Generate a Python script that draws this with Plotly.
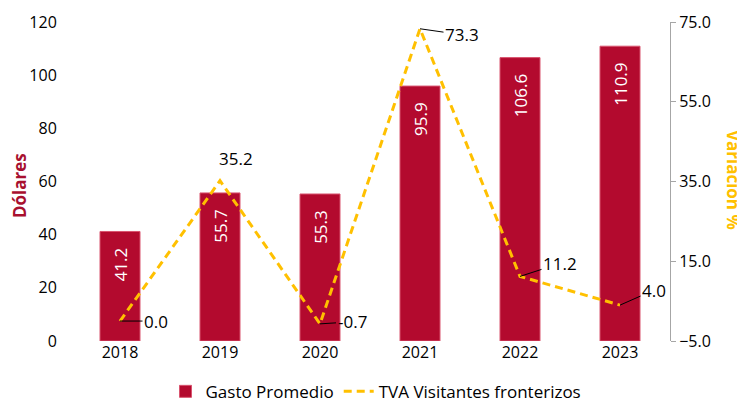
import plotly.graph_objects as go

# datos
years = ["2018", "2019", "2020", "2021", "2022", "2023"]
gasto = [41.2, 55.7, 55.3, 95.9, 106.6, 110.9]
tva = [0.0, 35.2, -0.7, 73.3, 11.2, 4.0]
tva_labels = ["0.0", "35.2", "-0.7", "73.3", "11.2", "4.0"]
right_ticks = [-5, 15, 35, 55, 75]

FONT = "Open Sans"
ROJO = "#B30A2E"
AMARILLO = "#FFC000"
NBSP = "\u00a0"

fig = go.Figure()

fig.add_trace(go.Bar(
    x=years, y=gasto, name="Gasto Promedio",
    marker=dict(color=ROJO, line=dict(color="#D9546F", width=1)),
    # espacios duros para separar la etiqueta del borde superior
    text=[f"{v:.1f}" + NBSP * 3 for v in gasto],
    textposition="inside", insidetextanchor="end", textangle=-90,
    textfont=dict(color="white", size=17, family=FONT),
))

fig.add_trace(go.Scatter(
    x=years, y=tva, name="TVA Visitantes fronterizos", yaxis="y2",
    mode="lines", line=dict(color=AMARILLO, width=3, dash="8px,5px"),
))

# etiquetas de la línea con guías (x = índice de categoría, "2018" se leería como número)
offsets = [(36, 0), (None, None), (32, -2), (42, 6), (40, -13), (34, -15)]
for i, (v, lab, (ax, ay)) in enumerate(zip(tva, tva_labels, offsets)):
    if ax is None:
        fig.add_annotation(x=i, y=v, yref="y2", text=lab, showarrow=False,
                           xshift=16, yshift=22, font=dict(size=17, color="black", family=FONT))
    else:
        fig.add_annotation(x=i, y=v, yref="y2", text=lab, showarrow=True,
                           arrowhead=0, arrowwidth=1, arrowcolor="black", standoff=0,
                           ax=ax, ay=ay, font=dict(size=17, color="black", family=FONT))

fig.add_annotation(text="<b>Dólares</b>", xref="paper", yref="paper", x=-0.085, y=0.489,
                   xanchor="center", yanchor="middle",
                   textangle=-90, showarrow=False, font=dict(size=17, color="#A8102F", family=FONT))
fig.add_annotation(text="<b>Variación %</b>", xref="paper", yref="paper", x=1.105, y=0.505,
                   xanchor="center", yanchor="middle",
                   textangle=90, showarrow=False, font=dict(size=17, color=AMARILLO, family=FONT))

fig.update_layout(
    width=745, height=407,
    margin=dict(l=62, r=83, t=14, b=74),
    plot_bgcolor="white", paper_bgcolor="white",
    font=dict(family=FONT, size=16, color="black"),
    bargap=0.6,
    showlegend=True,
    legend=dict(orientation="h", x=0.51, xanchor="center", yref="container", y=0.057,
                yanchor="middle", font=dict(size=17)),
    xaxis=dict(type="category", showgrid=False, showline=False, ticks="", tickfont=dict(size=16),
               automargin=False),
    yaxis=dict(range=[0, 120], dtick=20, showgrid=False, zeroline=False, showline=False,
               ticks="outside", ticklen=9, tickcolor="white", automargin=False),
    yaxis2=dict(range=[-5, 75], tickvals=right_ticks, tickformat=".1f", overlaying="y",
                side="right", showgrid=False, zeroline=False, showline=True,
                linecolor="#A6A6A6", linewidth=1, ticks="outside", ticklen=5,
                tickcolor="#A6A6A6", automargin=False),
)

fig.write_html("out.html")
